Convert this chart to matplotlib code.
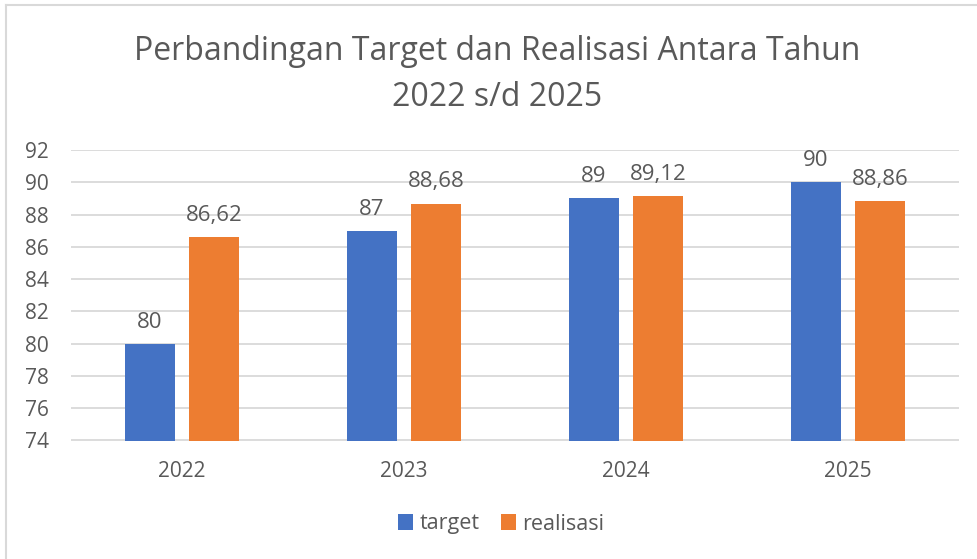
import matplotlib
matplotlib.use("Agg")
import matplotlib.pyplot as plt
from matplotlib.lines import Line2D
import numpy as np

years = ["2022", "2023", "2024", "2025"]
target = [80, 87, 89, 90]
realisasi = [86.62, 88.68, 89.12, 88.86]
yticks = [74, 76, 78, 80, 82, 84, 86, 88, 90, 92]
series_names = ["target", "realisasi"]

plt.rcParams['font.family'] = ['Open Sans', 'DejaVu Sans']
TXT = "#595959"
GRID = "#d9d9d9"
BLUE = "#4472c4"
ORANGE = "#ed7d31"

W, H = 977, 559
fig = plt.figure(figsize=(W/100, H/100), dpi=100)

# chart border (top and left visible)
fig.add_artist(Line2D([6/W, 1], [1-5/H, 1-5/H], transform=fig.transFigure, color=GRID, lw=1.5))
fig.add_artist(Line2D([6/W, 6/W], [0, 1-5/H], transform=fig.transFigure, color=GRID, lw=1.5))

ax = fig.add_axes([71/W, 1-440.5/H, (959-71)/W, (440.5-150)/H])
x = np.arange(len(years))
bw = 0.225
gap = 0.063
off = (bw + gap) / 2
b1 = ax.bar(x - off, target, bw, color=BLUE, label=series_names[0], zorder=3)
b2 = ax.bar(x + off, realisasi, bw, color=ORANGE, label=series_names[1], zorder=3)
ax.set_ylim(74, 92)
ax.set_xlim(-0.5, 3.5)
ax.set_yticks(yticks)
ax.set_yticklabels([str(v) for v in yticks], fontsize=15, color=TXT)
ax.set_xticks(x)
ax.set_xticklabels(years, fontsize=15, color=TXT)
ax.tick_params(axis='both', length=0)
ax.tick_params(axis='y', pad=16)
ax.tick_params(axis='x', pad=15)
ax.yaxis.grid(True, color=GRID, lw=1.3, zorder=0)
for s in ax.spines.values():
    s.set_visible(False)

def fmt(v):
    s = f"{v:.2f}".rstrip('0').rstrip('.')
    return s.replace('.', ',')

for bars, vals in ((b1, target), (b2, realisasi)):
    for r, v in zip(bars, vals):
        ax.annotate(fmt(v), (r.get_x() + r.get_width()/2, v), xytext=(0, 8),
                    textcoords='offset points', ha='center', va='bottom',
                    fontsize=16, color=TXT)

fig.text(497/W, 1-52/H, "Perbandingan Target dan Realisasi Antara Tahun", ha='center', va='center',
         fontsize=23, color=TXT)
fig.text(497/W, 1-98/H, "2022 s/d 2025", ha='center', va='center', fontsize=23, color=TXT)

leg = fig.legend(handles=[b1, b2], labels=series_names, loc='center', bbox_to_anchor=(501/W, 1-524/H),
                 ncol=2, frameon=False, fontsize=15.5, handlelength=0.7, handleheight=0.7,
                 handletextpad=0.3, columnspacing=1.0, labelcolor=TXT)

fig.savefig("out.png", dpi=100, facecolor='white')
